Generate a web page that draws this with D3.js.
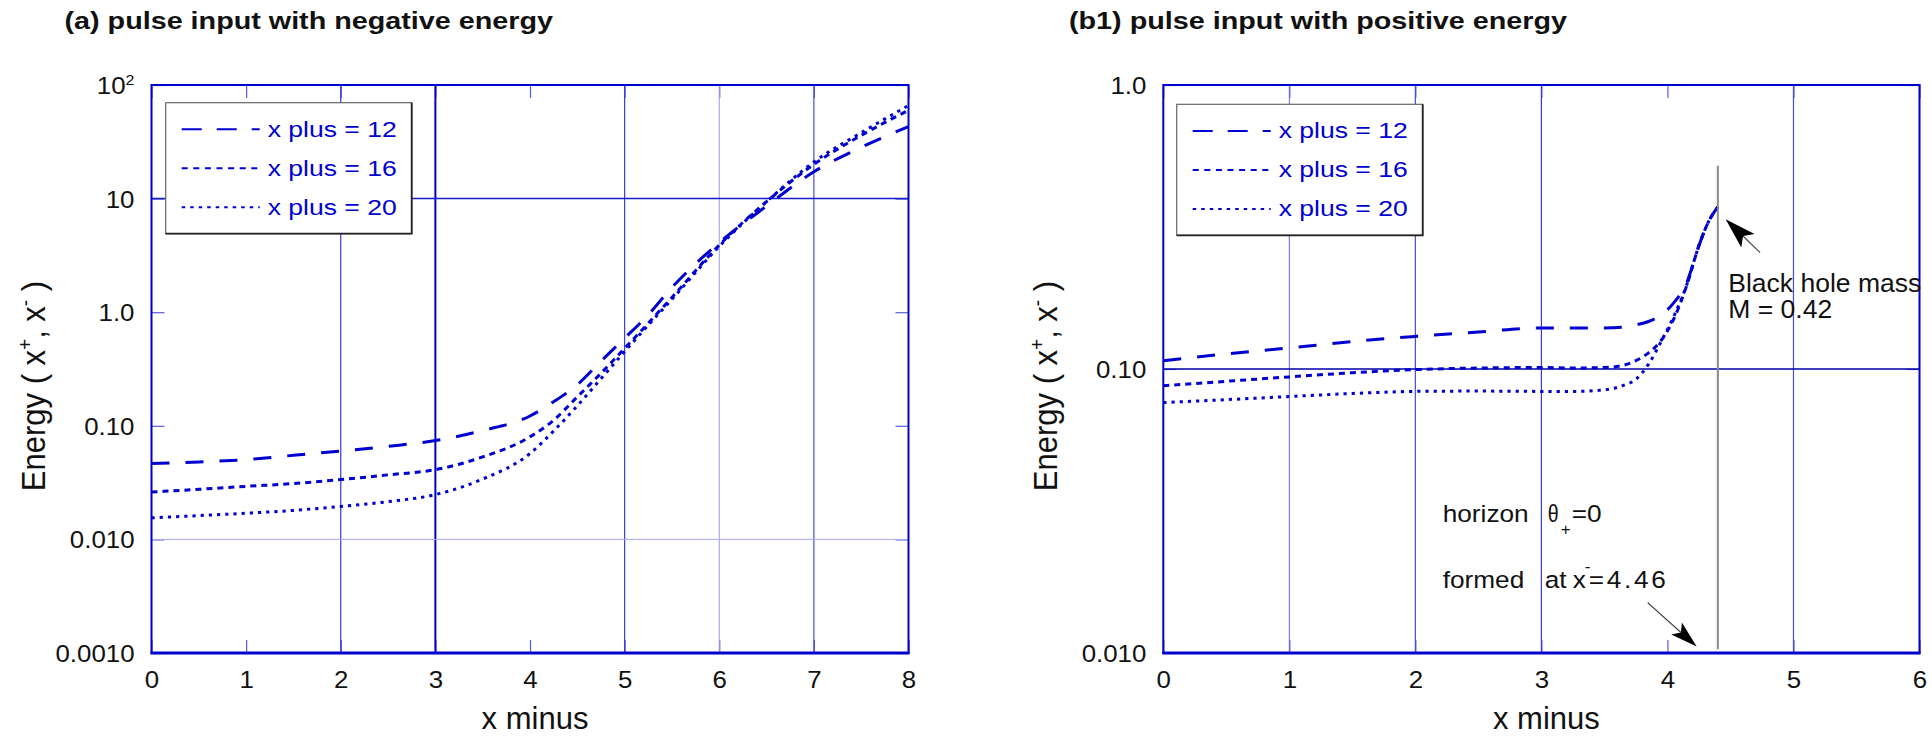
<!DOCTYPE html>
<html>
<head>
<meta charset="utf-8">
<script src="https://cdn.jsdelivr.net/npm/d3@7"></script>
<style>
  body { margin: 0; background: #fff; }
  svg { display: block; }
  text { font-family: "Liberation Sans", Arial, Helvetica, sans-serif; }
</style>
</head>
<body>
<svg id="chart" width="1932" height="737"></svg>
<script>
// ---- Panel (a): pulse input with negative energy ----
const xMinusA = [0, 0.5, 1, 1.5, 2, 2.5, 3, 3.5, 4, 4.25, 4.5, 4.75, 5, 5.25, 5.5, 6, 6.5, 7, 7.5, 8];
const energyA12 = [0.0465, 0.048, 0.0504, 0.055, 0.060, 0.066, 0.0741, 0.091, 0.122, 0.163, 0.23, 0.37, 0.59, 0.95, 1.65, 4.1, 8.6, 17.2, 28.3, 43];
const energyA16 = [0.0261, 0.0276, 0.0293, 0.031, 0.0336, 0.037, 0.0411, 0.0532, 0.080, 0.112, 0.18, 0.29, 0.48, 0.80, 1.35, 3.9, 9.4, 20, 36, 60];
const energyA20 = [0.0155, 0.0162, 0.017, 0.018, 0.0195, 0.0215, 0.0248, 0.034, 0.057, 0.09, 0.15, 0.26, 0.45, 0.77, 1.3, 3.8, 9.4, 21, 38, 66];
const xTicksA = [0, 1, 2, 3, 4, 5, 6, 7, 8];
const yTicksA = [0.001, 0.01, 0.1, 1, 10, 100];
const yTickLabelsA = ["0.0010", "0.010", "0.10", "1.0", "10", "10^2"];

// ---- Panel (b1): pulse input with positive energy ----
const xMinusB = [0, 0.5, 1, 1.5, 2, 2.5, 3, 3.25, 3.5, 3.65, 3.75, 3.85, 3.95, 4.05, 4.15, 4.25, 4.32, 4.4];
const energyB12 = [0.107, 0.113, 0.1186, 0.125, 0.1303, 0.135, 0.1395, 0.1395, 0.1395, 0.1405, 0.143, 0.147, 0.155, 0.171, 0.20, 0.272, 0.326, 0.372];
const energyB16 = [0.0873, 0.0905, 0.0938, 0.097, 0.0995, 0.1008, 0.1012, 0.1008, 0.1012, 0.103, 0.107, 0.114, 0.126, 0.150, 0.195, 0.272, 0.326, 0.372];
const energyB20 = [0.0762, 0.078, 0.080, 0.082, 0.0834, 0.0836, 0.0834, 0.0834, 0.0845, 0.0875, 0.092, 0.104, 0.125, 0.153, 0.196, 0.272, 0.326, 0.372];
const xTicksB = [0, 1, 2, 3, 4, 5, 6];
const yTicksB = [0.01, 0.1, 1];
const yTickLabelsB = ["0.010", "0.10", "1.0"];

const seriesNames = ["x plus = 12", "x plus = 16", "x plus = 20"];

// ---- drawing ----
const svg = d3.select("#chart");
const CURVE_BLUE = "#0000d0";
const FRAME_BLUE = "#0000cc";
const lineStyles = [
  { dash: "18,16", legendDash: "20,15" },
  { dash: "6,5",   legendDash: "6,5.6" },
  { dash: "3.2,5", legendDash: "3.5,5" }
];

// text placed at (x, y) with a horizontal stretch factor
function addText(parent, x, y, str, o = {}) {
  let tf = `translate(${x},${y}) scale(${o.sx || 1},1)`;
  if (o.rotate) tf += ` rotate(${o.rotate})`;
  const t = parent.append("text")
    .attr("transform", tf)
    .attr("font-size", o.size || 23)
    .attr("font-weight", o.weight || "normal")
    .attr("fill", o.fill || "#111")
    .attr("text-anchor", o.anchor || "start");
  if (o.spacing) t.attr("letter-spacing", o.spacing);
  if (str !== null) t.text(str);
  return t;
}

function setTickLabel(sel, str) {
  const parts = str.split("^");
  sel.text(parts[0]);
  if (parts[1]) sel.append("tspan").attr("dy", "-0.6em").attr("font-size", "0.62em").text(parts[1]);
}

function arrow(g, x1, y1, x2, y2, len, half) {
  const a = Math.atan2(y2 - y1, x2 - x1);
  const ux = Math.cos(a), uy = Math.sin(a), nx = -uy, ny = ux;
  const bx = x2 - ux * len, by = y2 - uy * len;
  const mx = x2 - ux * len * 0.78, my = y2 - uy * len * 0.78;
  g.append("line").attr("x1", x1).attr("y1", y1).attr("x2", mx).attr("y2", my)
    .attr("stroke", "#444").attr("stroke-width", 1.1);
  g.append("path")
    .attr("d", `M${x2},${y2}L${bx + nx * half},${by + ny * half}L${mx},${my}L${bx - nx * half},${by - ny * half}Z`)
    .attr("fill", "#000");
}

function drawPanel(p) {
  const x = d3.scaleLinear().domain(p.xDomain).range([p.left, p.right]);
  const y = d3.scaleLog().domain(p.yDomain).range([p.bottom, p.top]);
  const g = svg.append("g");

  // short inward ticks on all four sides
  const ticks = (axis, tx, ty) => {
    const a = g.append("g").attr("transform", `translate(${tx},${ty})`).call(axis);
    a.select(".domain").remove();
    a.selectAll("text").remove();
    a.selectAll("line").attr("stroke", "#5a5ae0").attr("stroke-width", 1.2);
  };
  ticks(d3.axisBottom(x).tickValues(p.xTicks).tickSize(-13), 0, p.bottom);
  ticks(d3.axisTop(x).tickValues(p.xTicks).tickSize(-13), 0, p.top);
  ticks(d3.axisLeft(y).tickValues(p.yTicks).tickSize(-13), p.left, 0);
  ticks(d3.axisRight(y).tickValues(p.yTicks).tickSize(-13), p.right, 0);

  // full-length grid lines
  p.vGrid.forEach(d => g.append("line")
    .attr("x1", x(d.v)).attr("x2", x(d.v)).attr("y1", p.top).attr("y2", p.bottom)
    .attr("stroke", d.c).attr("stroke-width", d.w));
  p.hGrid.forEach(d => g.append("line")
    .attr("x1", p.left).attr("x2", p.right).attr("y1", y(d.v)).attr("y2", y(d.v))
    .attr("stroke", d.c).attr("stroke-width", d.w));

  // frame
  g.append("rect").attr("x", p.left).attr("y", p.top)
    .attr("width", p.right - p.left).attr("height", p.bottom - p.top)
    .attr("fill", "none").attr("stroke", FRAME_BLUE).attr("stroke-width", 2);
  g.append("line").attr("x1", p.left - 1).attr("x2", p.right + 1)
    .attr("y1", p.bottom).attr("y2", p.bottom)
    .attr("stroke", FRAME_BLUE).attr("stroke-width", 3);

  // tick labels
  const xa = g.append("g").attr("transform", `translate(0,${p.bottom})`)
    .call(d3.axisBottom(x).tickValues(p.xTicks).tickSize(0).tickFormat(d3.format("d")));
  xa.select(".domain").remove();
  xa.attr("font-size", null).attr("font-family", null);
  xa.selectAll("text")
    .attr("y", null).attr("dy", null)
    .attr("transform", "translate(0,35) scale(1.1,1)")
    .attr("font-size", 23.5).attr("fill", "#111");

  const ya = g.append("g").attr("transform", `translate(${p.left},0)`)
    .call(d3.axisLeft(y).tickValues(p.yTicks).tickSize(0).tickFormat(() => ""));
  ya.select(".domain").remove();
  ya.attr("font-size", null).attr("font-family", null);
  ya.selectAll("text")
    .attr("x", null).attr("dy", "0.36em")
    .attr("transform", "translate(-17,0) scale(1.1,1)")
    .attr("font-size", 23.5).attr("fill", "#111")
    .each(function (d, i) { setTickLabel(d3.select(this), p.yTickLabels[i]); });

  // axis titles
  addText(g, (p.left + p.right) / 2 + 5, 729, "x minus", { size: 31, anchor: "middle" });
  const yl = addText(g, p.yLabelX, 386, null, { size: 31, anchor: "middle", sx: 1.08, rotate: -90 });
  yl.append("tspan").text("Energy ( x");
  yl.append("tspan").attr("dy", -12).attr("font-size", 19).text("+");
  yl.append("tspan").attr("dy", 12).text(", x");
  yl.append("tspan").attr("dy", -12).attr("font-size", 19).text("-");
  yl.append("tspan").attr("dy", 12).text(" )");

  // panel title
  addText(g, p.titleX, 28.5, p.title, { size: 23, weight: "bold", sx: 1.25 });

  // legend
  const bx = p.left + p.legend.dx, by = p.top + p.legend.dy;
  const lg = g.append("g");
  lg.append("rect").attr("x", bx).attr("y", by).attr("width", 246).attr("height", 131)
    .attr("fill", "#fff").attr("stroke", "#666").attr("stroke-width", 1.2);
  lg.append("path").attr("d", `M${bx + 246},${by}V${by + 131}H${bx}`)
    .attr("fill", "none").attr("stroke", "#222").attr("stroke-width", 1.8);
  seriesNames.forEach((name, i) => {
    const ry = by + 26.6 + i * 39;
    lg.append("line").attr("x1", bx + 16).attr("x2", bx + 94).attr("y1", ry).attr("y2", ry)
      .attr("stroke", CURVE_BLUE).attr("stroke-width", 2).attr("stroke-dasharray", lineStyles[i].legendDash);
    addText(lg, bx + 102, ry + 7.5, name, { size: 22.3, sx: 1.19, fill: CURVE_BLUE });
  });

  // curves
  const line = d3.line().x(d => x(d[0])).y(d => y(d[1])).curve(d3.curveMonotoneX);
  p.series.forEach((vals, i) => {
    const pts = p.xs.map((xv, j) => [xv, vals[j]]);
    g.append("path").attr("d", line(pts))
      .attr("fill", "none").attr("stroke", CURVE_BLUE).attr("stroke-width", 3)
      .attr("stroke-dasharray", lineStyles[i].dash);
  });

  return { g, x, y };
}

const panelA = drawPanel({
  left: 151.5, right: 908.5, top: 85, bottom: 653,
  xDomain: [0, 8], yDomain: [0.001, 100],
  xTicks: xTicksA, yTicks: yTicksA, yTickLabels: yTickLabelsA,
  vGrid: [
    { v: 2, c: "#3535d8", w: 1.2 },
    { v: 3, c: "#0000cc", w: 2 },
    { v: 5, c: "#3a3ad8", w: 1.2 },
    { v: 6, c: "#9a9aee", w: 1 },
    { v: 7, c: "#4a4adc", w: 1.2 }
  ],
  hGrid: [
    { v: 10, c: "#1a1acc", w: 1.5 },
    { v: 0.01, c: "#aaaaf0", w: 1 }
  ],
  yLabelX: 45, titleX: 64.5,
  title: "(a) pulse input with negative energy",
  legend: { dx: 14.2, dy: 17.7 },
  xs: xMinusA, series: [energyA12, energyA16, energyA20]
});

const panelB = drawPanel({
  left: 1163.3, right: 1919.5, top: 85, bottom: 653,
  xDomain: [0, 6], yDomain: [0.01, 1],
  xTicks: xTicksB, yTicks: yTicksB, yTickLabels: yTickLabelsB,
  vGrid: [
    { v: 1, c: "#6565e0", w: 1 },
    { v: 2, c: "#4a4ad8", w: 1.2 },
    { v: 3, c: "#3a3ad8", w: 1.2 },
    { v: 5, c: "#4a4ad8", w: 1.2 }
  ],
  hGrid: [
    { v: 0.1, c: "#0000aa", w: 1.5 }
  ],
  yLabelX: 1057, titleX: 1069,
  title: "(b1) pulse input with positive energy",
  legend: { dx: 13.4, dy: 19.3 },
  xs: xMinusB, series: [energyB12, energyB16, energyB20]
});

// ---- annotations on panel (b1) ----
(function () {
  const { g, x, y } = panelB;
  const endX = xMinusB[xMinusB.length - 1];
  // vertical marker where the curves terminate
  g.append("line").attr("x1", x(endX)).attr("x2", x(endX))
    .attr("y1", y(0.52)).attr("y2", y(0.0103))
    .attr("stroke", "#8a8a8a").attr("stroke-width", 2);

  arrow(g, x(4.735), y(0.257), x(4.462), y(0.337), 31, 9.5);
  addText(g, x(4.483), y(0.1874), "Black hole mass", { size: 25.5, sx: 1.04 });
  addText(g, x(4.483), y(0.151), "M = 0.42", { size: 25.5, sx: 1.04 });

  const hx = x(2.217), hy = y(0.02893);
  addText(g, hx, hy, "horizon", { size: 24.5, sx: 1.07 });
  addText(g, hx + 105, hy, "θ", { size: 24.5, sx: 0.8 });
  addText(g, hx + 118, hy + 13, "+", { size: 17 });
  addText(g, hx + 129, hy, "=0", { size: 24.5, sx: 1.07 });

  const fy = y(0.01698);
  addText(g, hx, fy, "formed", { size: 24.5, sx: 1.07 });
  addText(g, hx + 102, fy, "at", { size: 24.5, sx: 1.07 });
  addText(g, hx + 130, fy, "x", { size: 24.5, sx: 1.07 });
  addText(g, hx + 142, fy - 16, "-", { size: 17 });
  addText(g, hx + 146, fy, "=4.46", { size: 24.5, sx: 1.07, spacing: 2.5 });

  arrow(g, x(3.844), y(0.01503), x(4.232), y(0.01054), 27, 8);
})();
</script>
</body>
</html>
